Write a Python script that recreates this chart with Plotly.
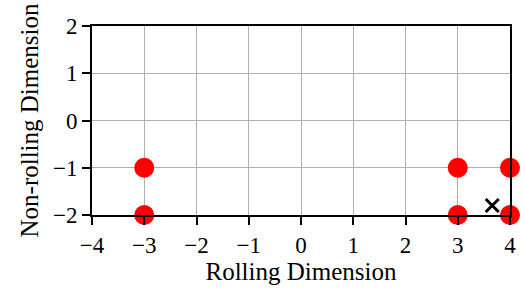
import plotly.graph_objects as go

dots_x = [-3, -3, 3, 3, 4, 4]
dots_y = [-1, -2, -1, -2, -1, -2]
cross_x = [3.66]
cross_y = [-1.8]
x_ticks = [-4, -3, -2, -1, 0, 1, 2, 3, 4]
y_ticks = [-2, -1, 0, 1, 2]

font = "Liberation Serif"

fig = go.Figure()
fig.add_trace(go.Scatter(x=dots_x, y=dots_y, mode="markers",
                         marker=dict(color="#ff0000", size=20, line=dict(width=0)),
                         cliponaxis=False))
fig.add_trace(go.Scatter(x=cross_x, y=cross_y, mode="markers",
                         marker=dict(symbol="x-thin", color="black", size=13,
                                     line=dict(width=3, color="black")),
                         cliponaxis=False))

axis_common = dict(showgrid=True, gridcolor="#b0b0b0", gridwidth=1,
                   showline=True, linecolor="black", linewidth=2, mirror=True,
                   ticks="outside", ticklen=8, tickwidth=2, tickcolor="black",
                   zeroline=False, automargin=False,
                   tickfont=dict(family=font, size=23, color="black"))

fig.update_xaxes(range=[-4, 4], tickvals=x_ticks,
                 ticktext=[("\u2212" + str(-v)) if v < 0 else str(v) for v in x_ticks],
                 title=dict(text="Rolling Dimension", font=dict(family=font, size=25, color="black"), standoff=6),
                 **axis_common)
fig.update_yaxes(range=[-2, 2], tickvals=y_ticks,
                 ticktext=[("\u2212" + str(-v)) if v < 0 else str(v) for v in y_ticks],
                 title=dict(text="Non-rolling Dimension", font=dict(family=font, size=25, color="black"), standoff=7),
                 **axis_common)

fig.update_layout(width=525, height=289, showlegend=False,
                  margin=dict(l=92, r=15, t=26, b=74),
                  plot_bgcolor="white", paper_bgcolor="white",
                  font=dict(family=font, color="black"))

fig.write_html("out.html")
